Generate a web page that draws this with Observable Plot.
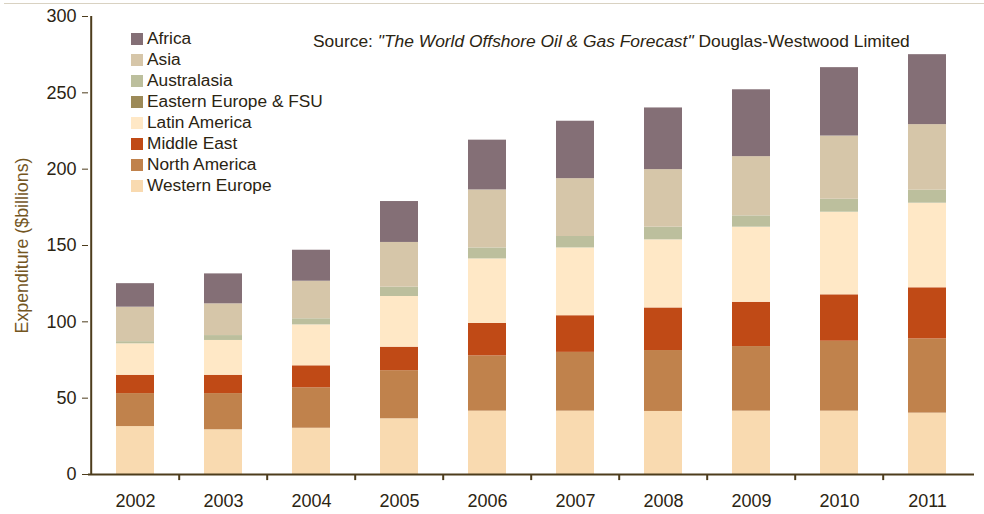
<!DOCTYPE html>
<html>
<head>
<meta charset="utf-8">
<script src="https://cdn.jsdelivr.net/npm/d3@7"></script>
<script src="https://cdn.jsdelivr.net/npm/@observablehq/plot@0.6"></script>
<style>
  html, body { margin: 0; padding: 0; background: #fff; }
  #wrap { position: relative; width: 984px; height: 514px; font-family: "Liberation Sans", Arial, sans-serif; }
  #topline { position: absolute; left: 4px; right: 0; top: 3px; height: 0; border-top: 1px solid #d9d2c2; }
  #legend { position: absolute; left: 131px; top: 28px; color: #2b2412; font-size: 17.3px; }
  #legend .row { height: 21px; display: flex; align-items: center; }
  #legend .sw { width: 12px; height: 12px; margin-right: 4px; }
  #source { position: absolute; left: 313px; top: 31px; color: #2b2412; font-size: 17.4px; white-space: nowrap; }
</style>
</head>
<body>
<div id="wrap">
  <div id="chart"></div>
  <div id="topline"></div>
  <div id="legend"></div>
  <div id="source">Source: <i>"The World Offshore Oil &amp; Gas Forecast"</i> Douglas-Westwood Limited</div>
</div>
<script>
const years = ["2002","2003","2004","2005","2006","2007","2008","2009","2010","2011"];
// series listed bottom-to-top of the stack
const seriesNames = ["Western Europe","North America","Middle East","Latin America","Eastern Europe & FSU","Australasia","Asia","Africa"];
const seriesColors = ["#f9dab0","#c0824c","#c04a16","#ffe8c6","#9c8a58","#bcbf9d","#d6c6a9","#846f76"];
const westernEurope   = [31.4, 29.3, 30.3, 36.5, 41.5, 41.5, 41.3, 41.5, 41.5, 40.2];
const northAmerica    = [21.6, 23.7, 26.5, 31.5, 36.2, 38.5, 39.9, 42.3, 45.8, 48.6];
const middleEast      = [12.0, 12.0, 14.4, 15.4, 21.3, 24.0, 27.9, 29.0, 30.4, 33.5];
const latinAmerica    = [20.6, 22.8, 26.8, 33.2, 42.2, 44.4, 44.6, 49.2, 54.1, 55.4];
const easternEurope   = [0, 0, 0, 0, 0, 0, 0, 0, 0, 0];
const australasia     = [1.4, 3.2, 4.0, 6.1, 7.2, 7.5, 8.3, 7.4, 8.5, 8.5];
const asia            = [22.6, 20.8, 24.6, 29.3, 38.0, 37.9, 37.7, 38.8, 41.4, 43.0];
const africa          = [15.4, 19.6, 20.3, 26.8, 32.6, 37.6, 40.4, 43.8, 44.8, 45.8];
const yTicks = [0, 50, 100, 150, 200, 250, 300];
const yLabel = "Expenditure ($billions)";

const seriesValues = [westernEurope, northAmerica, middleEast, latinAmerica, easternEurope, australasia, asia, africa];
const table = [];
seriesNames.forEach((name, si) => {
  years.forEach((yr, i) => table.push({year: yr, region: name, value: seriesValues[si][i]}));
});

const W = 984, H = 514, ML = 88, MR = 10;
const step = (W - ML - MR) / years.length;
const half = step / 2;
const axisColor = "#4d3c1c";
const textColor = "#2b2412";

const chart = Plot.plot({
  width: W, height: H,
  marginLeft: ML, marginRight: MR, marginTop: 16, marginBottom: 40,
  style: {fontFamily: "'Liberation Sans', Arial, sans-serif", color: textColor, background: "transparent"},
  x: {domain: years, padding: 0, axis: null},
  y: {domain: [0, 300], axis: null},
  color: {domain: seriesNames, range: seriesColors},
  marks: [
    Plot.barY(table, {x: "year", y: "value", fill: "region", insetLeft: 25, insetRight: 25, order: seriesNames}),
    Plot.axisY({ticks: yTicks, tickSize: 6, tickPadding: 6, fontSize: 18, stroke: axisColor, fill: textColor, label: null}),
    Plot.axisX({tickSize: 0, tickPadding: 20, fontSize: 18, fill: textColor, label: null}),
    Plot.ruleX([years[0]], {dx: -half, y1: 0, y2: 300, stroke: axisColor, strokeWidth: 2}),
    Plot.ruleX(years.slice(1), {dx: -half, y1: 0, y2: -4, stroke: axisColor, strokeWidth: 2}),
    Plot.ruleY([0], {stroke: axisColor, strokeWidth: 2}),
    Plot.text([yLabel], {frameAnchor: "left", dx: -66, dy: 0, rotate: -90, fontSize: 17.8, fill: "#74561f", textAnchor: "middle"})
  ]
});
document.getElementById("chart").appendChild(chart);

const legend = document.getElementById("legend");
seriesNames.slice().reverse().forEach((name) => {
  const i = seriesNames.indexOf(name);
  const row = document.createElement("div");
  row.className = "row";
  const sw = document.createElement("span");
  sw.className = "sw";
  sw.style.background = seriesColors[i];
  const t = document.createElement("span");
  t.textContent = name;
  row.appendChild(sw); row.appendChild(t);
  legend.appendChild(row);
});
</script>
</body>
</html>
